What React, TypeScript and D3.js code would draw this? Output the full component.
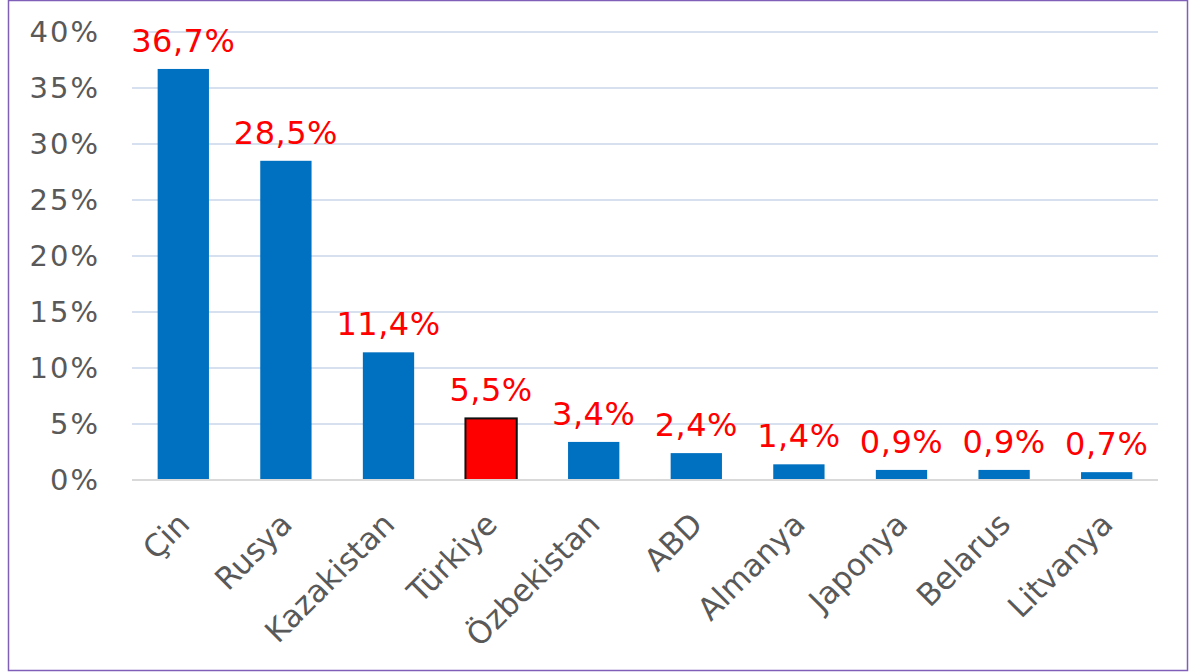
import React from "react";
import * as d3 from "d3";

const categories = ["Çin", "Rusya", "Kazakistan", "Türkiye", "Özbekistan", "ABD", "Almanya", "Japonya", "Belarus", "Litvanya"];
const values = [36.7, 28.5, 11.4, 5.5, 3.4, 2.4, 1.4, 0.9, 0.9, 0.7];
const labels = ["36,7%", "28,5%", "11,4%", "5,5%", "3,4%", "2,4%", "1,4%", "0,9%", "0,9%", "0,7%"];
const yTicks = [0, 5, 10, 15, 20, 25, 30, 35, 40];
const highlight = "Türkiye";

const W = 1189;
const H = 672;
const left = 132;
const right = 1158;
const top = 32;
const bottom = 480;
const FONT = "'DejaVu Sans', Verdana, sans-serif";

export default function App() {
  const x = d3.scaleBand<string>().domain(categories).range([left, right]).paddingInner(0.5).paddingOuter(0.25);
  const y = d3.scaleLinear().domain([0, 40]).range([bottom, top]);
  return (
    <svg width={W} height={H} style={{ position: "absolute", left: 0, top: 0 }} fontFamily={FONT}>
      <rect x={0} y={0} width={W} height={H} fill="#fff" />
      <rect x={8.5} y={0.5} width={1179} height={670} fill="none" stroke="#7f5fb8" strokeWidth={1.5} />
      {yTicks.map((t) => (
        <g key={t}>
          {t > 0 && <line x1={left} x2={right} y1={y(t)} y2={y(t)} stroke="#d6e0ee" strokeWidth={2} />}
          <text x={100} y={y(t)} dy="0.36em" textAnchor="end" fontSize={29} fill="#595959" letterSpacing={2}>
            {t}%
          </text>
        </g>
      ))}
      {categories.map((c, i) => {
        const bx = x(c)!;
        const bw = x.bandwidth();
        const isH = c === highlight;
        return (
          <g key={c}>
            <rect
              x={bx}
              y={y(values[i])}
              width={bw}
              height={bottom - y(values[i])}
              fill={isH ? "#ff0000" : "#0070c0"}
              stroke={isH ? "#111" : "none"}
              strokeWidth={isH ? 2 : 0}
            />
            <text x={bx + bw / 2} y={y(values[i]) - 17} textAnchor="middle" fontSize={32} fill="#ff0000" letterSpacing={0.5}>
              {labels[i]}
            </text>
          </g>
        );
      })}
      <line x1={left} x2={right} y1={bottom} y2={bottom} stroke="#d9d9d9" strokeWidth={2} />
      {categories.map((c) => {
        const cx = x(c)! + x.bandwidth() / 2;
        return (
          <text
            key={c + "l"}
            transform={`translate(${cx + 8},${526}) rotate(-45)`}
            textAnchor="end"
            fontSize={31}
            fill="#595959"
          >
            {c}
          </text>
        );
      })}
    </svg>
  );
}
